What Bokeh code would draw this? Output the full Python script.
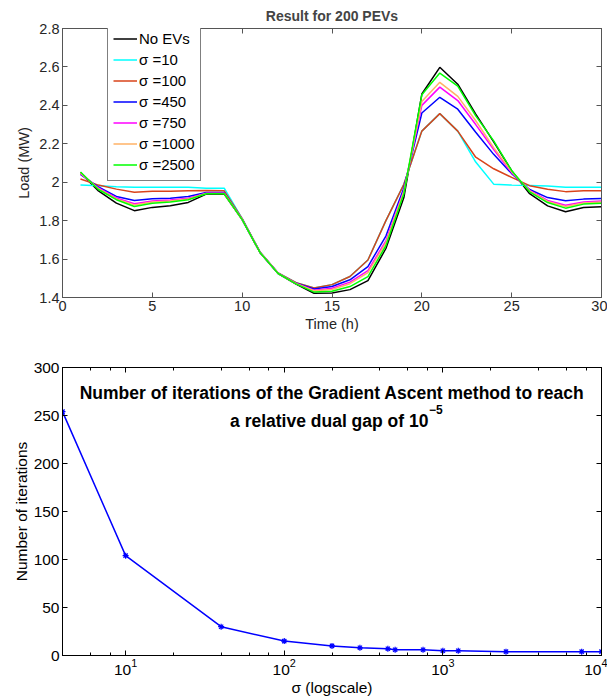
from bokeh.plotting import figure
from bokeh.layouts import column
from bokeh.models import (LinearAxis, LogAxis, FixedTicker, LogTicker, Legend, LegendItem,
                          PrintfTickFormatter, CustomJSTickFormatter, Label, Range1d)
from bokeh.embed import file_html
from bokeh.resources import INLINE

FONT = "Liberation Sans"

# ---------------- data: top chart ----------------
hours = list(range(1, 31))
no_ev = [2.050, 1.955, 1.891, 1.852, 1.869, 1.877, 1.895, 1.938, 1.938, 1.805,
         1.633, 1.525, 1.470, 1.422, 1.424, 1.441, 1.488, 1.655, 1.920, 2.459,
         2.598, 2.510, 2.354, 2.210, 2.060, 1.940, 1.877, 1.846, 1.868, 1.872]
sigma10 = [1.986, 1.981, 1.977, 1.974, 1.974, 1.974, 1.974, 1.969, 1.969, 1.810,
           1.636, 1.528, 1.477, 1.450, 1.467, 1.509, 1.595, 1.800, 1.989, 2.266,
           2.357, 2.266, 2.105, 1.990, 1.985, 1.983, 1.980, 1.974, 1.974, 1.974]
sigma100 = [2.017, 1.985, 1.964, 1.948, 1.953, 1.953, 1.955, 1.957, 1.955, 1.810,
            1.636, 1.528, 1.477, 1.450, 1.467, 1.509, 1.595, 1.800, 1.989, 2.266,
            2.357, 2.266, 2.130, 2.070, 2.025, 1.982, 1.963, 1.951, 1.955, 1.955]
sigma450 = [2.041, 1.975, 1.926, 1.905, 1.914, 1.917, 1.926, 1.946, 1.946, 1.807,
            1.634, 1.526, 1.474, 1.444, 1.457, 1.492, 1.561, 1.720, 1.970, 2.360,
            2.442, 2.380, 2.260, 2.145, 2.045, 1.962, 1.920, 1.903, 1.912, 1.915]
sigma750 = [2.045, 1.970, 1.918, 1.888, 1.902, 1.907, 1.917, 1.943, 1.943, 1.806,
            1.634, 1.526, 1.473, 1.438, 1.448, 1.480, 1.540, 1.695, 1.955, 2.400,
            2.495, 2.425, 2.300, 2.170, 2.050, 1.958, 1.905, 1.880, 1.897, 1.902]
sigma1000 = [2.048, 1.966, 1.913, 1.882, 1.897, 1.902, 1.913, 1.941, 1.941, 1.806,
             1.634, 1.526, 1.472, 1.435, 1.442, 1.472, 1.530, 1.685, 1.950, 2.420,
             2.520, 2.447, 2.320, 2.180, 2.055, 1.955, 1.900, 1.874, 1.892, 1.897]
sigma2500 = [2.053, 1.962, 1.909, 1.874, 1.891, 1.897, 1.909, 1.940, 1.940, 1.805,
             1.633, 1.525, 1.471, 1.428, 1.433, 1.457, 1.509, 1.670, 1.940, 2.455,
             2.568, 2.500, 2.345, 2.215, 2.060, 1.950, 1.894, 1.865, 1.886, 1.890]

series_names = ["No EVs", "σ =10", "σ =100", "σ =450", "σ =750", "σ =1000", "σ =2500"]
series_values = [no_ev, sigma10, sigma100, sigma450, sigma750, sigma1000, sigma2500]
series_colors = ["#000000", "#00FFFF", "#D9431A", "#0000FF", "#FF00FF", "#FFB266", "#00FF00"]

x_ticks_top = [0, 5, 10, 15, 20, 25, 30]
y_ticks_top = [1.4, 1.6, 1.8, 2.0, 2.2, 2.4, 2.6, 2.8]

# ---------------- data: bottom chart ----------------
sigma_vals = [4, 10, 40, 100, 200, 300, 450, 500, 750, 1000, 1250, 2500, 7500, 10000]
iterations = [254, 104, 30, 15, 10, 8, 7, 6, 6, 5, 5, 4, 4, 4]
y_ticks_bot = [0, 50, 100, 150, 200, 250, 300]

EMPTY = CustomJSTickFormatter(code="return ''")


def style_axis(ax, color, size, label_color):
    ax.major_tick_in = 5
    ax.major_tick_out = 0
    ax.minor_tick_in = 3
    ax.minor_tick_out = 0
    ax.axis_line_color = color
    ax.major_tick_line_color = color
    ax.minor_tick_line_color = color
    ax.major_label_text_font = FONT
    ax.major_label_text_font_size = size
    ax.major_label_text_color = label_color
    ax.axis_label_text_font = FONT
    ax.axis_label_text_font_style = "normal"
    ax.axis_label_text_font_size = size
    ax.axis_label_text_color = label_color


def hidden_axis(ax):
    ax.formatter = EMPTY
    ax.major_label_standoff = 0
    ax.axis_label = None


# ================= top figure =================
AX1 = "#555555"
p1 = figure(width=607, height=338, x_range=Range1d(0, 30), y_range=Range1d(1.4, 2.8),
            output_backend="svg", toolbar_location=None,
            min_border_left=62, min_border_right=6, min_border_top=27, min_border_bottom=41)
p1.title.text = "Result for 200 PEVs"
p1.title.align = "center"
p1.title.text_font = FONT
p1.title.text_font_style = "bold"
p1.title.text_font_size = "14px"
p1.title.standoff = 10
p1.grid.visible = False
p1.outline_line_color = AX1

renderers = []
for vals, col in zip(series_values, series_colors):
    r = p1.line(hours, vals, line_color=col, line_width=1.5)
    renderers.append(r)

p1.xaxis.ticker = FixedTicker(ticks=x_ticks_top)
p1.yaxis.ticker = FixedTicker(ticks=y_ticks_top)
p1.yaxis.formatter = PrintfTickFormatter(format="%g")
p1.xaxis.axis_label = "Time (h)"
p1.yaxis.axis_label = "Load (MW)"
for ax in p1.xaxis + p1.yaxis:
    style_axis(ax, AX1, "14.5px", "#262626")
    ax.minor_tick_line_color = None
    ax.major_label_standoff = 3
    ax.axis_label_standoff = 4
p1.xaxis.axis_label_standoff = 2

ra = LinearAxis(ticker=FixedTicker(ticks=y_ticks_top))
style_axis(ra, AX1, "14px", "#262626")
ra.minor_tick_line_color = None
hidden_axis(ra)
p1.add_layout(ra, "right")
ta = LinearAxis(ticker=FixedTicker(ticks=x_ticks_top))
style_axis(ta, AX1, "14px", "#262626")
ta.minor_tick_line_color = None
hidden_axis(ta)
p1.add_layout(ta, "above")

items = [LegendItem(label=n, renderers=[r]) for n, r in zip(series_names, renderers)]
legend = Legend(items=items, location=(45, 116), label_text_font=FONT,
                label_text_font_size="15px", label_text_color="#000000",
                glyph_width=24, glyph_height=21, label_height=21, label_standoff=2,
                spacing=0, padding=5, margin=0, border_line_color="#000000",
                border_line_width=1, background_fill_color="white", background_fill_alpha=1)
p1.add_layout(legend)

# ================= bottom figure =================
p2 = figure(width=607, height=360, x_axis_type="log", x_range=Range1d(4, 10000),
            y_range=Range1d(0, 300), output_backend="svg", toolbar_location=None,
            min_border_left=62, min_border_right=6, min_border_top=29, min_border_bottom=41)
p2.grid.visible = False
p2.outline_line_color = "black"

p2.line(sigma_vals, iterations, line_color="#0000FF", line_width=1.5)
p2.scatter(sigma_vals, iterations, marker="asterisk", size=6, line_color="#0000FF",
           line_width=1.2)

p2.yaxis.ticker = FixedTicker(ticks=y_ticks_bot)
p2.xaxis.ticker = LogTicker()
p2.xaxis.axis_label = "σ (logscale)"
p2.yaxis.axis_label = "Number of iterations"
for ax in p2.xaxis + p2.yaxis:
    style_axis(ax, "black", "15.5px", "black")
    ax.major_label_standoff = 3
    ax.axis_label_standoff = 1
p2.yaxis.minor_tick_line_color = None

ra2 = LinearAxis(ticker=FixedTicker(ticks=y_ticks_bot))
style_axis(ra2, "black", "15px", "black")
ra2.minor_tick_line_color = None
hidden_axis(ra2)
p2.add_layout(ra2, "right")
ta2 = LogAxis(ticker=LogTicker())
style_axis(ta2, "black", "15px", "black")
hidden_axis(ta2)
p2.add_layout(ta2, "above")

title_kw = dict(text_font=FONT, text_font_style="bold", text_color="black",
                text_baseline="middle")
p2.add_layout(Label(x=200, y=273, text="Number of iterations of the Gradient Ascent method to reach",
                    text_align="center", text_font_size="17.5px", **title_kw))
p2.add_layout(Label(x=811, y=244, text="a relative dual gap of 10",
                    text_align="right", text_font_size="17.5px", **title_kw))
p2.add_layout(Label(x=818, y=256, text="−5",
                    text_align="left", text_font_size="12px", **title_kw))

layout = column(p1, p2, spacing=0)
open("out.html", "w").write(file_html(layout, INLINE))
